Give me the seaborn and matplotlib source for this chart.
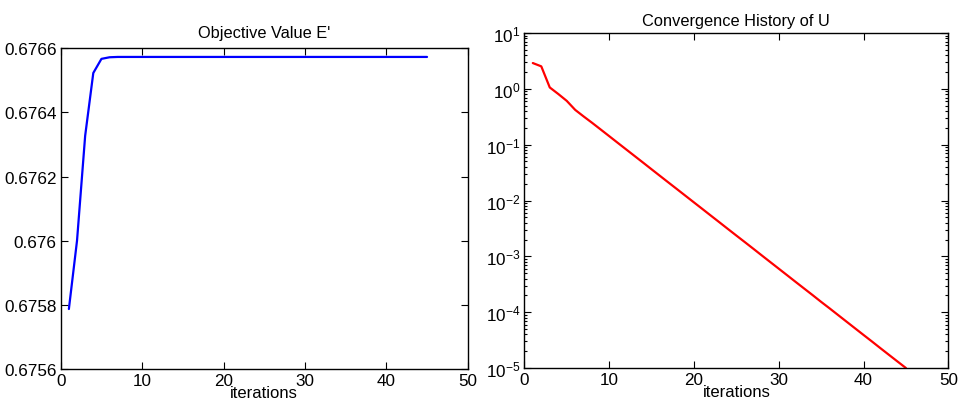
import numpy as np
import pandas as pd
import seaborn as sns
import matplotlib.pyplot as plt
from matplotlib.ticker import LogLocator, NullFormatter

# Datos
iteraciones = list(range(1, 46))

objetivo = [0.675787, 0.676000, 0.676327, 0.676523, 0.676567, 0.676572] + [0.676573] * 39

convergencia_u = [2.90, 2.53, 1.06, 0.81, 0.61, 0.42, 0.32, 0.246, 0.1874, 0.1426,
                  0.1084, 0.0825, 0.0628, 0.0478, 0.0363, 0.0276, 0.0210, 0.0160,
                  0.01217, 0.00926, 0.00705, 0.00536, 0.00408, 0.00310, 0.00236,
                  0.00180, 0.00137, 0.00104, 7.91e-4, 6.02e-4, 4.58e-4, 3.48e-4,
                  2.65e-4, 2.02e-4, 1.53e-4, 1.17e-4, 8.89e-5, 6.76e-5, 5.14e-5,
                  3.91e-5, 2.98e-5, 2.26e-5, 1.72e-5, 1.31e-5, 1.00e-5]

df = pd.DataFrame({"iterations": iteraciones, "E": objetivo, "U": convergencia_u})

sns.set_theme(style="white")
plt.rcParams["font.family"] = ["Liberation Sans", "DejaVu Sans"]
plt.rcParams["mathtext.fontset"] = "custom"
plt.rcParams["mathtext.rm"] = "Liberation Sans"
plt.rcParams["mathtext.it"] = "Liberation Sans"

fig = plt.figure(figsize=(9.61, 4.10), dpi=100)
ax1 = fig.add_axes([0.0632, 0.0976, 0.4235, 0.7822])
ax2 = fig.add_axes([0.5456, 0.100, 0.4412, 0.817])


def estilo_matlab(ax):
    for s in ax.spines.values():
        s.set_color("black")
        s.set_linewidth(1.0)
    ax.tick_params(which="both", direction="in", top=True, right=True,
                   bottom=True, left=True,
                   colors="black", labelsize=12.3, width=0.8)
    ax.tick_params(which="major", length=5, pad=3)
    ax.tick_params(which="minor", length=2.5)
    ax.set_xlim(0, 50)
    ax.set_xticks([0, 10, 20, 30, 40, 50])
    ax.set_xlabel("iterations", fontsize=12, labelpad=-2.5, color="black")
    ax.set_ylabel("")


# Grafica izquierda
sns.lineplot(data=df, x="iterations", y="E", ax=ax1, color="#0000ff", linewidth=1.6)
ax1.set_ylim(0.6756, 0.6766)
ax1.set_yticks([0.6756, 0.6758, 0.676, 0.6762, 0.6764, 0.6766])
ax1.set_yticklabels(["0.6756", "0.6758", "0.676", "0.6762", "0.6764", "0.6766"])
ax1.set_title("Objective Value E'", fontsize=11.8, color="black", pad=8)
estilo_matlab(ax1)

# Grafica derecha
sns.lineplot(data=df, x="iterations", y="U", ax=ax2, color="#ff0000", linewidth=1.6)
ax2.set_yscale("log")
ax2.set_ylim(1e-5, 1e1)
ax2.yaxis.set_major_locator(LogLocator(base=10, numticks=10))
ax2.yaxis.set_minor_locator(LogLocator(base=10, subs=np.arange(2, 10), numticks=100))
ax2.yaxis.set_minor_formatter(NullFormatter())
ax2.set_title("Convergence History of U", fontsize=11.8, color="black", pad=6)
estilo_matlab(ax2)

plt.savefig("out.png", dpi=100, facecolor="white")
plt.clf()
plt.close()
